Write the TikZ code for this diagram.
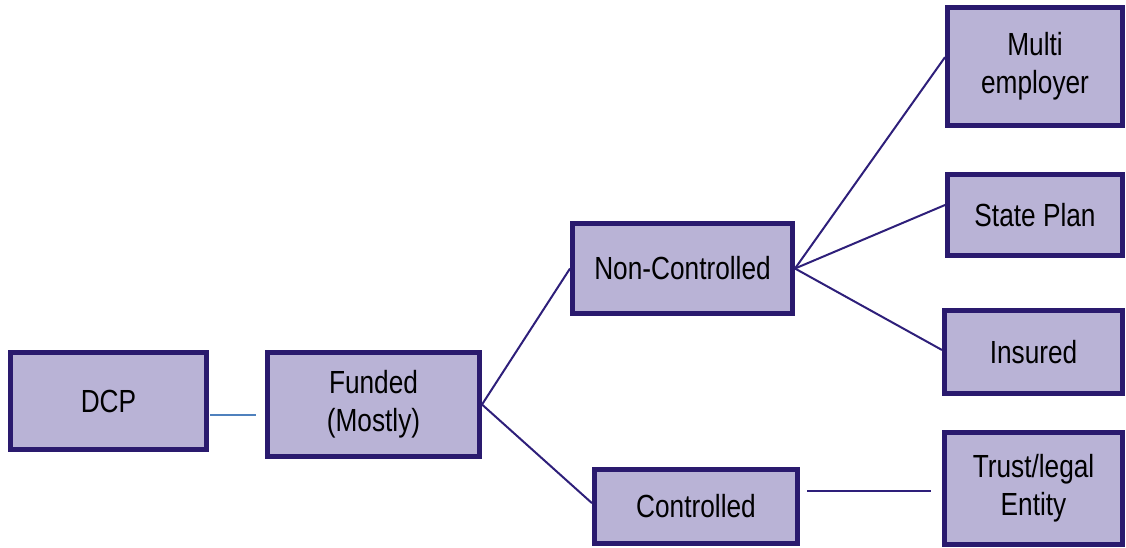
\documentclass[tikz,border=0pt]{standalone}
\usepackage{fontspec}
\setmainfont{Liberation Sans}[FakeStretch=0.82]
\definecolor{boxfill}{HTML}{B9B3D6}
\definecolor{boxline}{HTML}{2A1A6E}
\definecolor{linkline}{HTML}{2E1F7A}
\definecolor{bluelink}{HTML}{4F81BD}
\begin{document}
\begin{tikzpicture}[x=0.75pt,y=-0.75pt,
  box/.style={draw=boxline,fill=boxfill,line width=3.75pt,inner sep=0pt,
    align=center,font=\fontsize{24}{28.5}\selectfont},
  link/.style={draw=linkline,line width=1.5pt},
  bluelinkstyle/.style={draw=bluelink,line width=1.1pt}]
\useasboundingbox (0,0) rectangle (1126,547);

\node[box,minimum width=196*0.75pt,minimum height=97*0.75pt]  (dcp)    at (108.5,401)   {DCP};
\node[box,minimum width=212*0.75pt,minimum height=104*0.75pt] (funded) at (373.5,404.5) {Funded\\(Mostly)};
\node[box,minimum width=220*0.75pt,minimum height=90*0.75pt]  (nonc)   at (682.5,268.5) {Non-Controlled};
\node[box,minimum width=203*0.75pt,minimum height=74*0.75pt]  (ctrl)   at (696,506.5)   {Controlled};
\node[box,minimum width=175*0.75pt,minimum height=118*0.75pt] (multi)  at (1035,66.5)   {Multi\\employer};
\node[box,minimum width=175*0.75pt,minimum height=81*0.75pt]  (state)  at (1035,215)    {State Plan};
\node[box,minimum width=178*0.75pt,minimum height=83*0.75pt]  (ins)    at (1033.5,352)  {Insured};
\node[box,minimum width=178*0.75pt,minimum height=112*0.75pt] (trust)  at (1033.5,488.5){Trust/legal\\Entity};

% short link leaving DCP, stopping before the funded box
\coordinate (dcpend) at (256,415);
\draw[bluelinkstyle] ([yshift=-10.5pt,xshift=1pt]dcp.east) -- (dcpend);

% branches
\draw[link] (funded.east) -- (nonc.west);
\draw[link] (funded.east) -- ([yshift=2.5pt]ctrl.west);
\draw[link] (nonc.east) -- ([yshift=7pt]multi.west);
\draw[link] (nonc.east) -- ([yshift=7.5pt]state.west);
\draw[link] (nonc.east) -- ([yshift=1.5pt]ins.west);
\draw[link] ([xshift=5.25pt,yshift=11.6pt]ctrl.east) -- ([xshift=-8.25pt,yshift=-1.9pt]trust.west);
\end{tikzpicture}
\end{document}
